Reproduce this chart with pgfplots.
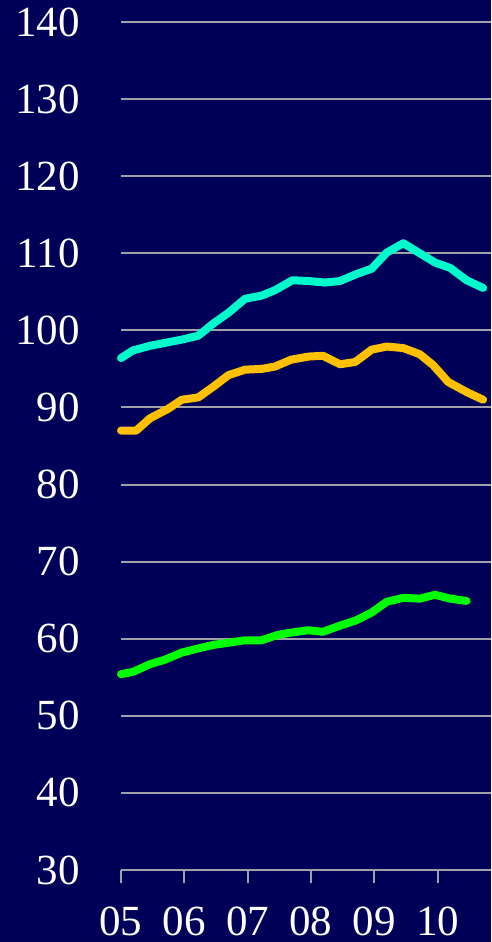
\documentclass[border=0pt]{standalone}
\usepackage{pgfplots}
\pgfplotsset{compat=1.18}
\usepackage{fontspec}
\setmainfont{Liberation Serif}
\definecolor{bgnavy}{RGB}{0,0,88}
\definecolor{gridgray}{RGB}{160,160,168}
\definecolor{cyanline}{RGB}{0,250,204}
\definecolor{orangeline}{RGB}{255,192,0}
\definecolor{greenline}{RGB}{0,255,0}
\begin{document}
\begin{tikzpicture}
\useasboundingbox (-121pt,-72pt) rectangle (370pt,870pt);
\fill[bgnavy] (-121pt,-72pt) rectangle (370pt,870pt);
\begin{axis}[
    at={(0,0)}, anchor=south west,
    scale only axis,
    width=370pt, height=848pt,
    xmin=5, xmax=10.845,
    ymin=30, ymax=140,
    xtick={5,6,7,8,9,10},
    xticklabels={05,06,07,08,09,10},
    ytick={30,40,...,140},
    axis lines*=left,
    y axis line style={draw=none},
    x axis line style={gridgray, line width=2pt},
    xtick style={gridgray, line width=2pt},
    ytick style={draw=none},
    xtick align=outside,
    major tick length=13pt,
    ymajorgrids,
    grid style={gridgray, line width=2pt},
    /pgf/number format/assume math mode=true,
    tick label style={font=\fontsize{43}{50}\selectfont, text=white},
    yticklabel style={anchor=east, inner sep=0pt, xshift=-41pt},
    xticklabel style={anchor=north, inner sep=0pt, text depth=0pt, yshift=-24pt},
    every axis plot/.append style={line width=8pt, line join=round, line cap=round},
    clip=false,
]
\addplot[cyanline] coordinates {
    (5.00,96.4) (5.19,97.4) (5.46,98.0) (5.96,98.8) (6.22,99.3) (6.46,100.9)
    (6.70,102.3) (6.96,104.1) (7.22,104.5) (7.43,105.2) (7.71,106.5) (7.96,106.4)
    (8.22,106.2) (8.46,106.4) (8.72,107.3) (8.96,108.0) (9.20,110.1) (9.46,111.3)
    (9.70,110.1) (9.96,108.8) (10.20,108.1) (10.46,106.5) (10.72,105.5)
};
\addplot[orangeline] coordinates {
    (5.00,87.0) (5.24,87.0) (5.46,88.6) (5.74,89.8) (5.96,91.0) (6.22,91.3)
    (6.46,92.7) (6.70,94.2) (6.96,94.9) (7.22,95.0) (7.43,95.3) (7.69,96.2)
    (7.96,96.6) (8.19,96.7) (8.46,95.6) (8.70,95.9) (8.96,97.5) (9.20,97.9)
    (9.46,97.7) (9.72,96.9) (9.93,95.5) (10.17,93.3) (10.46,92.0) (10.72,91.0)
};
\addplot[greenline] coordinates {
    (5.00,55.4) (5.19,55.7) (5.46,56.7) (5.70,57.3) (5.96,58.2) (6.25,58.8)
    (6.46,59.2) (6.72,59.5) (6.96,59.8) (7.22,59.8) (7.48,60.5) (7.69,60.8)
    (7.96,61.1) (8.19,60.9) (8.46,61.7) (8.72,62.4) (8.96,63.4) (9.20,64.8)
    (9.46,65.3) (9.72,65.2) (9.96,65.7) (10.20,65.2) (10.46,64.9)
};
\end{axis}
\end{tikzpicture}
\end{document}
